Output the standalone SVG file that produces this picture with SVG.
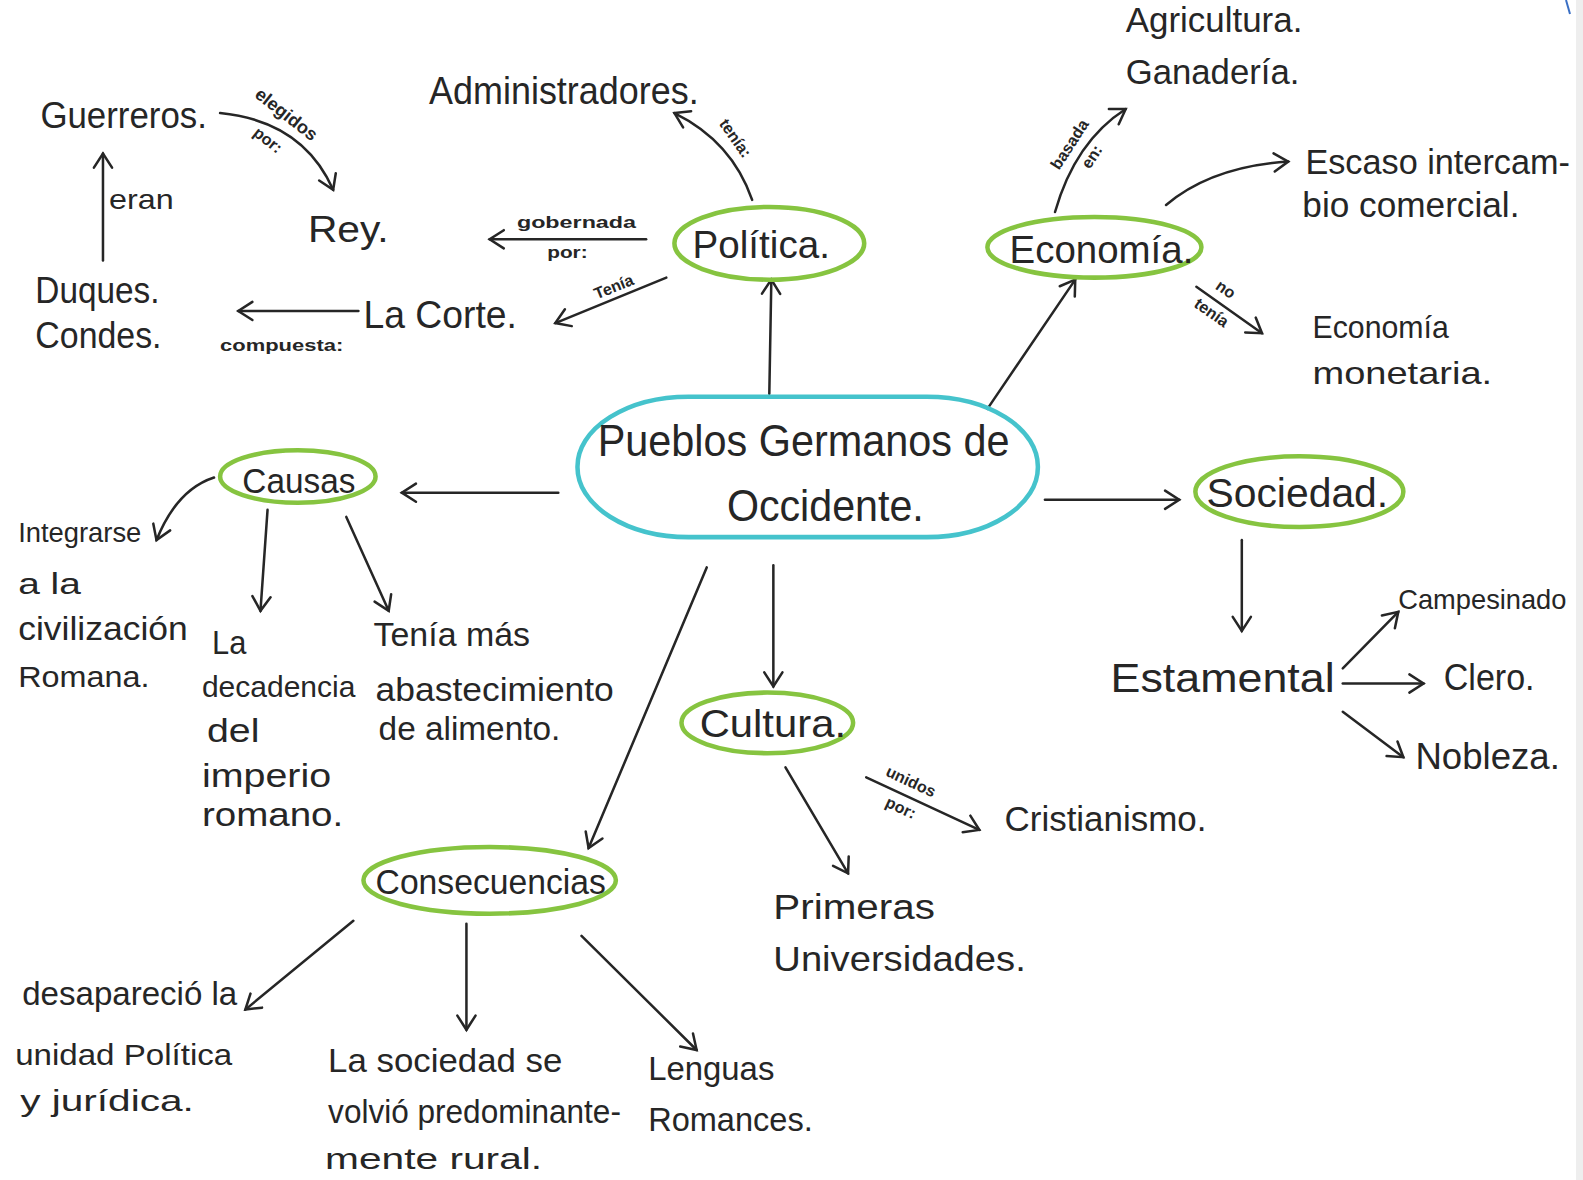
<svg xmlns="http://www.w3.org/2000/svg" width="1583" height="1180" viewBox="0 0 1583 1180">
<style>
text{font-family:"Liberation Sans","DejaVu Sans",sans-serif;fill:#262626;}
.s{font-size:16px;font-weight:bold;}
.c{fill:none;stroke:#262626;stroke-width:2.5;stroke-linecap:round;}
.g{fill:none;stroke:#86c440;stroke-width:4.5;}
.b{fill:none;stroke:#45c3cc;stroke-width:4.5;}
</style>
<defs>
<marker id="ah" markerUnits="userSpaceOnUse" markerWidth="24" markerHeight="24" viewBox="0 0 24 24" refX="20" refY="12" orient="auto">
<path d="M6,3 L20,12 L6,21" fill="none" stroke="#262626" stroke-width="2.5" stroke-linecap="round"/>
</marker>
</defs>
<rect width="1583" height="1180" fill="#ffffff"/>
<rect x="1576" y="0" width="7" height="1180" fill="#eeeeee"/>
<path d="M1566,0 L1570,14" stroke="#3a6fc4" stroke-width="2" fill="none"/>
<g transform="scale(1.0096)">
<g id="connectors">
<path class="c" marker-end="url(#ah)" d="M762,390 L764,277"/>
<path class="c" marker-end="url(#ah)" d="M978,405 L1065,277"/>
<path class="c" marker-end="url(#ah)" d="M553,488 L398,488"/>
<path class="c" marker-end="url(#ah)" d="M1035,495 L1168,495"/>
<path class="c" marker-end="url(#ah)" d="M766,560 L766,680"/>
<path class="c" marker-end="url(#ah)" d="M700,562 L583,840"/>
<path class="c" marker-end="url(#ah)" d="M745,198 Q725,140 668,112"/>
<path class="c" marker-end="url(#ah)" d="M640,237 L485,237"/>
<path class="c" marker-end="url(#ah)" d="M660,275 L550,320"/>
<path class="c" marker-end="url(#ah)" d="M218,112 Q300,120 330,188"/>
<path class="c" marker-end="url(#ah)" d="M102,258 L102,152"/>
<path class="c" marker-end="url(#ah)" d="M355,308 L236,308"/>
<path class="c" marker-end="url(#ah)" d="M1045,210 Q1065,140 1115,108"/>
<path class="c" marker-end="url(#ah)" d="M1155,203 Q1200,165 1276,160"/>
<path class="c" marker-end="url(#ah)" d="M1185,284 L1250,330"/>
<path class="c" marker-end="url(#ah)" d="M1230,535 L1230,625"/>
<path class="c" marker-end="url(#ah)" d="M1330,662 L1385,606"/>
<path class="c" marker-end="url(#ah)" d="M1330,677 L1410,677"/>
<path class="c" marker-end="url(#ah)" d="M1330,705 L1390,750"/>
<path class="c" marker-end="url(#ah)" d="M212,473 Q175,485 155,535"/>
<path class="c" marker-end="url(#ah)" d="M265,505 L258,605"/>
<path class="c" marker-end="url(#ah)" d="M343,512 L385,605"/>
<path class="c" marker-end="url(#ah)" d="M778,760 L840,865"/>
<path class="c" marker-end="url(#ah)" d="M858,770 L970,822"/>
<path class="c" marker-end="url(#ah)" d="M350,912 L243,1000"/>
<path class="c" marker-end="url(#ah)" d="M462,915 L462,1020"/>
<path class="c" marker-end="url(#ah)" d="M576,927 L690,1040"/>
<text class="s" style="font-size:18px" transform="translate(280,118) rotate(38)" text-anchor="middle">elegidos</text>
<text class="s" transform="translate(262,143) rotate(38)" text-anchor="middle">por:</text>
<text x="108" y="207" style="font-size:28px" textLength="64" lengthAdjust="spacingAndGlyphs">eran</text>
<text class="s" x="218" y="348" textLength="122" lengthAdjust="spacingAndGlyphs">compuesta:</text>
<text class="s" x="512" y="226" textLength="118" lengthAdjust="spacingAndGlyphs">gobernada</text>
<text class="s" x="542" y="256" textLength="40" lengthAdjust="spacingAndGlyphs">por:</text>
<text class="s" transform="translate(610,289) rotate(-22)" text-anchor="middle">Tenía</text>
<text class="s" transform="translate(724,140) rotate(55)" text-anchor="middle">tenía:</text>
<text class="s" transform="translate(1064,146) rotate(-57)" text-anchor="middle">basada</text>
<text class="s" transform="translate(1086,158) rotate(-57)" text-anchor="middle">en:</text>
<text class="s" transform="translate(1211,291) rotate(35)" text-anchor="middle">no</text>
<text class="s" transform="translate(1197,314) rotate(35)" text-anchor="middle">tenía</text>
<text class="s" transform="translate(900,779) rotate(25)" text-anchor="middle">unidos</text>
<text class="s" transform="translate(890,805) rotate(25)" text-anchor="middle">por:</text>
</g>
<g id="center"><rect class="b" x="572" y="393" width="456" height="139" rx="110" ry="69"/>
<text x="592" y="452" style="font-size:44px" textLength="408" lengthAdjust="spacingAndGlyphs">Pueblos Germanos de</text>
<text x="720" y="516" style="font-size:44px" textLength="195" lengthAdjust="spacingAndGlyphs">Occidente.</text></g>
<g id="politica"><ellipse class="g" cx="762" cy="241" rx="94" ry="36"/>
<text x="686" y="256" style="font-size:38px" textLength="136" lengthAdjust="spacingAndGlyphs">Política.</text></g>
<g id="economia"><ellipse class="g" cx="1084" cy="245" rx="106" ry="30"/>
<text x="1000" y="261" style="font-size:38px" textLength="182" lengthAdjust="spacingAndGlyphs">Economía.</text></g>
<g id="sociedad"><ellipse class="g" cx="1287" cy="487" rx="103" ry="35"/>
<text x="1195" y="502" style="font-size:40px" textLength="180" lengthAdjust="spacingAndGlyphs">Sociedad.</text></g>
<g id="causas"><ellipse class="g" cx="295" cy="472" rx="77" ry="26"/>
<text x="240" y="488" style="font-size:34px" textLength="112" lengthAdjust="spacingAndGlyphs">Causas</text></g>
<g id="cultura"><ellipse class="g" cx="760" cy="716" rx="85" ry="30"/>
<text x="693" y="730" style="font-size:38px" textLength="145" lengthAdjust="spacingAndGlyphs">Cultura.</text></g>
<g id="consecuencias"><ellipse class="g" cx="485" cy="872" rx="125" ry="33"/>
<text x="372" y="886" style="font-size:34px" textLength="228" lengthAdjust="spacingAndGlyphs">Consecuencias</text></g>
<g id="administradores"><text x="425" y="103" style="font-size:38px" textLength="267" lengthAdjust="spacingAndGlyphs">Administradores.</text></g>
<g id="guerreros"><text x="40" y="127" style="font-size:36px" textLength="165" lengthAdjust="spacingAndGlyphs">Guerreros.</text></g>
<g id="rey"><text x="305" y="240" style="font-size:36px" textLength="80" lengthAdjust="spacingAndGlyphs">Rey.</text></g>
<g id="duques"><text x="35" y="300" style="font-size:36px" textLength="123" lengthAdjust="spacingAndGlyphs">Duques.</text>
<text x="35" y="345" style="font-size:36px" textLength="125" lengthAdjust="spacingAndGlyphs">Condes.</text></g>
<g id="lacorte"><text x="360" y="325" style="font-size:38px" textLength="152" lengthAdjust="spacingAndGlyphs">La Corte.</text></g>
<g id="agricultura"><text x="1115" y="32" style="font-size:34px" textLength="175" lengthAdjust="spacingAndGlyphs">Agricultura.</text>
<text x="1115" y="83" style="font-size:34px" textLength="172" lengthAdjust="spacingAndGlyphs">Ganadería.</text></g>
<g id="escaso"><text x="1293" y="172" style="font-size:34px" textLength="262" lengthAdjust="spacingAndGlyphs">Escaso intercam-</text>
<text x="1290" y="215" style="font-size:34px" textLength="215" lengthAdjust="spacingAndGlyphs">bio comercial.</text></g>
<g id="monetaria"><text x="1300" y="335" style="font-size:31px" textLength="135" lengthAdjust="spacingAndGlyphs">Economía</text>
<text x="1300" y="380" style="font-size:31px" textLength="178" lengthAdjust="spacingAndGlyphs">monetaria.</text></g>
<g id="estamental"><text x="1100" y="685" style="font-size:40px" textLength="222" lengthAdjust="spacingAndGlyphs">Estamental</text></g>
<g id="campesinado"><text x="1385" y="603" style="font-size:27px">Campesinado</text></g>
<g id="clero"><text x="1430" y="683" style="font-size:36px" textLength="90" lengthAdjust="spacingAndGlyphs">Clero.</text></g>
<g id="nobleza"><text x="1402" y="762" style="font-size:36px" textLength="143" lengthAdjust="spacingAndGlyphs">Nobleza.</text></g>
<g id="integrarse"><text x="18" y="537" style="font-size:28px" textLength="122" lengthAdjust="spacingAndGlyphs">Integrarse</text>
<text x="18" y="588" style="font-size:30px" textLength="62" lengthAdjust="spacingAndGlyphs">a la</text>
<text x="18" y="634" style="font-size:32px" textLength="168" lengthAdjust="spacingAndGlyphs">civilización</text>
<text x="18" y="680" style="font-size:30px" textLength="130" lengthAdjust="spacingAndGlyphs">Romana.</text></g>
<g id="decadencia"><text x="210" y="648" style="font-size:32px" textLength="34" lengthAdjust="spacingAndGlyphs">La</text>
<text x="200" y="690" style="font-size:30px" textLength="152" lengthAdjust="spacingAndGlyphs">decadencia</text>
<text x="205" y="735" style="font-size:32px" textLength="52" lengthAdjust="spacingAndGlyphs">del</text>
<text x="200" y="780" style="font-size:33px" textLength="128" lengthAdjust="spacingAndGlyphs">imperio</text>
<text x="200" y="818" style="font-size:33px" textLength="140" lengthAdjust="spacingAndGlyphs">romano.</text></g>
<g id="tenia"><text x="370" y="640" style="font-size:32px" textLength="155" lengthAdjust="spacingAndGlyphs">Tenía más</text>
<text x="372" y="694" style="font-size:32px" textLength="236" lengthAdjust="spacingAndGlyphs">abastecimiento</text>
<text x="375" y="733" style="font-size:32px" textLength="180" lengthAdjust="spacingAndGlyphs">de alimento.</text></g>
<g id="cristianismo"><text x="995" y="823" style="font-size:34px" textLength="200" lengthAdjust="spacingAndGlyphs">Cristianismo.</text></g>
<g id="primeras"><text x="766" y="910" style="font-size:34px" textLength="160" lengthAdjust="spacingAndGlyphs">Primeras</text>
<text x="766" y="962" style="font-size:34px" textLength="250" lengthAdjust="spacingAndGlyphs">Universidades.</text></g>
<g id="desaparecio"><text x="22" y="995" style="font-size:32px" textLength="213" lengthAdjust="spacingAndGlyphs">desapareció la</text>
<text x="15" y="1055" style="font-size:30px" textLength="215" lengthAdjust="spacingAndGlyphs">unidad Política</text>
<text x="20" y="1100" style="font-size:30px" textLength="172" lengthAdjust="spacingAndGlyphs">y jurídica.</text></g>
<g id="rural"><text x="325" y="1062" style="font-size:32px" textLength="232" lengthAdjust="spacingAndGlyphs">La sociedad se</text>
<text x="325" y="1112" style="font-size:32px" textLength="290" lengthAdjust="spacingAndGlyphs">volvió predominante-</text>
<text x="322" y="1158" style="font-size:30px" textLength="215" lengthAdjust="spacingAndGlyphs">mente rural.</text></g>
<g id="lenguas"><text x="642" y="1070" style="font-size:32px" textLength="125" lengthAdjust="spacingAndGlyphs">Lenguas</text>
<text x="642" y="1120" style="font-size:32px" textLength="163" lengthAdjust="spacingAndGlyphs">Romances.</text></g>
</g>
</svg>
